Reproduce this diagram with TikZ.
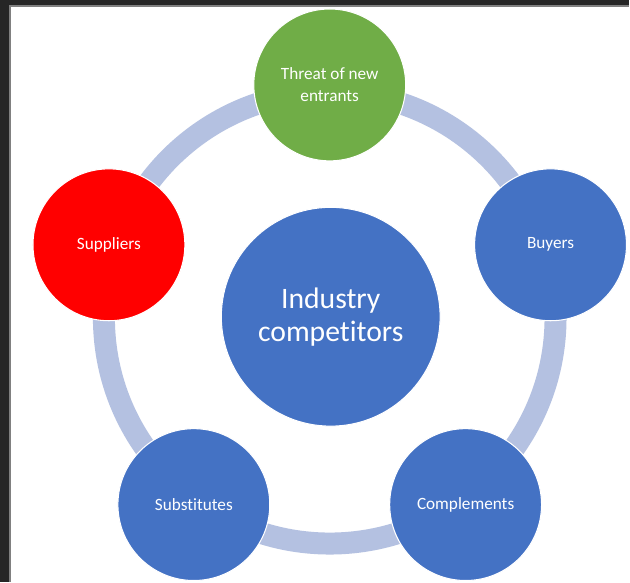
\documentclass[tikz,border=0pt]{standalone}
\usepackage{fontspec}
\setmainfont[Ligatures=NoCommon]{Carlito}
\definecolor{officeblue}{HTML}{4472C4}
\definecolor{officegreen}{HTML}{70AD47}
\definecolor{ringblue}{HTML}{B4C1E1}
\definecolor{framegray}{HTML}{262626}

\begin{document}
\begin{tikzpicture}[force/.style={circle, draw=white, line width=0.6pt, minimum size=3.04cm, inner sep=0pt, text=white, align=center, font=\fontsize{9.8}{12.5}\selectfont}]

\fill[framegray] (0,0) rectangle (12.6,-11.64);
\fill[white] (0.2,-0.12) rectangle (12.6,-11.64);
\draw[gray, line width=0.6pt] (0.2,-11.64) -- (0.2,-0.12) -- (12.6,-0.12);

\draw[ringblue, line width=0.44cm] (6.6,-6.36) circle (4.52);

\node (threat) at (6.6,-1.7) [force, fill=officegreen] {Threat of new\\entrants};
\node (suppliers) at (2.18,-4.9) [force, fill=red] {Suppliers};
\node (buyers) at (11.02,-4.9) [force, fill=officeblue] {Buyers};
\node (substitutes) at (3.88,-10.1) [force, fill=officeblue] {Substitutes};
\node (complements) at (9.32,-10.1) [force, fill=officeblue] {Complements};

\node (rivals) at (6.62,-6.34) [force, fill=officeblue, minimum size=4.38cm, font=\fontsize{16.9}{18.8}\selectfont] {Industry\\competitors};

\end{tikzpicture}
\end{document}
